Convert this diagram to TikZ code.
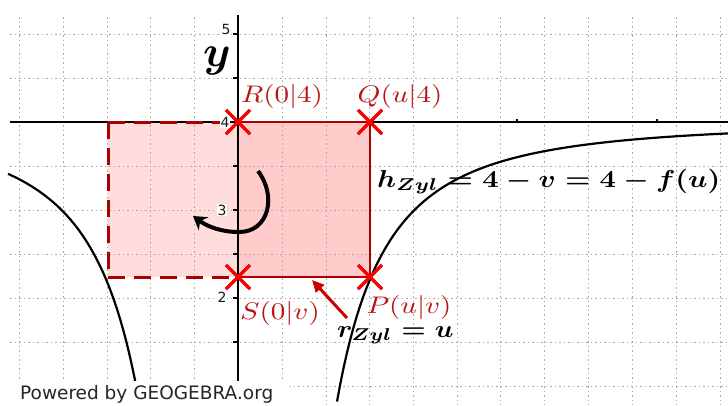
\documentclass[tikz,border=0pt]{standalone}
\usepackage{fontspec}
\newfontfamily\ggbfont{DejaVu Sans}
\usetikzlibrary{arrows.meta,shapes.misc}
\definecolor{gridc}{RGB}{170,170,170}
\definecolor{pinkL}{RGB}{255,221,221}
\definecolor{pinkR}{RGB}{255,203,203}
\definecolor{darkred}{RGB}{170,0,0}
\definecolor{labred}{RGB}{185,20,20}
\definecolor{crossred}{RGB}{250,0,0}
\definecolor{arrred}{RGB}{205,0,0}
\newcommand{\ptlab}[1]{\scalebox{2.9}[2.4]{$#1$}}
\tikzset{
  gridline/.style={gridc,line width=1pt,dash pattern=on 1.5pt off 3pt},
  axisline/.style={black,line width=2pt},
  curveline/.style={black,line width=2.2pt},
  rectsolid/.style={darkred,line width=2pt},
  rectdashed/.style={darkred,line width=3pt,dash pattern=on 17pt off 9pt},
  crossmark/.style={cross out,draw=crossred,line width=3pt,minimum size=21pt,inner sep=0pt},
  ptlabel/.style={labred,inner sep=0pt},
  formula/.style={black,inner sep=0pt},
  ticklab/.style={font=\ggbfont\fontsize{14}{14}\selectfont,fill=white,inner sep=0.6pt,text=black!90},
  tickmark/.style={black,line width=1.5pt}
}
\begin{document}
\begin{tikzpicture}[x=1pt,y=-1pt]
\useasboundingbox (0,0) rectangle (728,405);
\fill[white] (0,0) rectangle (728,405);
% fills
\fill[pinkL] (108,122) rectangle (238,277);
\fill[pinkR] (238,122) rectangle (370,277);
% grid
\foreach \gx in {19,63,107,150,194,282,326,369,413,457,500,544,588,632,676,720}
  \draw[gridline] (\gx,17) -- (\gx,405);
\foreach \gy in {34,78,166,210,254,298,342,386}
  \draw[gridline] (10,\gy) -- (728,\gy);
% axes
\draw[axisline] (238,15) -- (238,405);
\draw[axisline] (10,122) -- (728,122);
\foreach \ty in {34,78,166,210,254,298,342}
  \draw[tickmark] (233,\ty) -- (238,\ty);
\foreach \tx in {517,657}
  \draw[tickmark] (\tx,119) -- (\tx,122);
% curves
\draw[curveline] plot[domain=-2.3:-0.99,samples=90] ({238+100*\x},{122+274/(\x*\x)});
\draw[curveline] plot[domain=0.99:4.92,samples=120] ({238+100*\x},{122+274/(\x*\x)});
% rectangle outlines
\coordinate (c1) at (108,122);
\coordinate (c2) at (108,277);
\draw[rectdashed] (c1) -- (c2);
\draw[rectdashed] (c1) -- (238,122);
\draw[rectdashed] (c2) -- (238,277);
% tick labels
\node[ticklab] (t5) at (226,29) {5};
\node[ticklab] (t4) at (225,122) {4};
\node[ticklab] (t3) at (222,210) {3};
\node[ticklab] (t2) at (222,297) {2};
% y label
\node[inner sep=0pt] (ylab) at (217,61) {\scalebox{4.4}{\boldmath$y$}};
% points
\node[crossmark] (R) at (238,122) {};
\node[crossmark] (Q) at (370,122) {};
\node[crossmark] (S) at (238,277) {};
\node[crossmark] (P) at (370,277) {};
\draw[rectsolid] (R.center) -- (Q.center) -- (P.center) -- (S.center);
\node[crossmark] at (R) {};
\node[crossmark] at (Q) {};
\node[crossmark] at (S) {};
\node[crossmark] at (P) {};
% labels
\node[ptlabel] (Rl) at (282,96) {\ptlab{R(0|4)}};
\node[ptlabel] (Ql) at (400,96) {\ptlab{Q(u|4)}};
\node[ptlabel] (Sl) at (280,313) {\ptlab{S(0|v)}};
\node[ptlabel] (Pl) at (409,307) {\ptlab{P(u|v)}};
\node[formula,anchor=base west] (hl) at (377,187) {\scalebox{2.85}[2.45]{\boldmath$h_{Zyl}=4-v=4-f(u)$}};
\node[formula,anchor=base west] (rl) at (337,337) {\scalebox{2.75}[2.45]{\boldmath$r_{Zyl}=u$}};
% red arrow
\coordinate (ra) at (347,318);
\coordinate (rb) at (312,280);
\draw[arrred,line width=3pt,-{Triangle[length=12pt,width=11pt]}] (ra) -- (rb);
% rotation arrow
\coordinate (rot1) at (258,171);
\coordinate (rot2) at (239,232);
\coordinate (rot3) at (193,216);
\draw[black,line width=4pt,-{Stealth[length=13pt,width=16pt]}] (rot1) .. controls (277,196) and (269,232) .. (rot2) .. controls (222,232) and (208,227) .. (rot3);
% logo
\fill[white] (0,381) rectangle (290,405);
\node[font=\ggbfont\fontsize{18.5}{18.5}\selectfont,text=black!85,anchor=base west,inner sep=0pt] (logo) at (20,399) {Powered by GEOGEBRA.org};
\end{tikzpicture}
\end{document}
